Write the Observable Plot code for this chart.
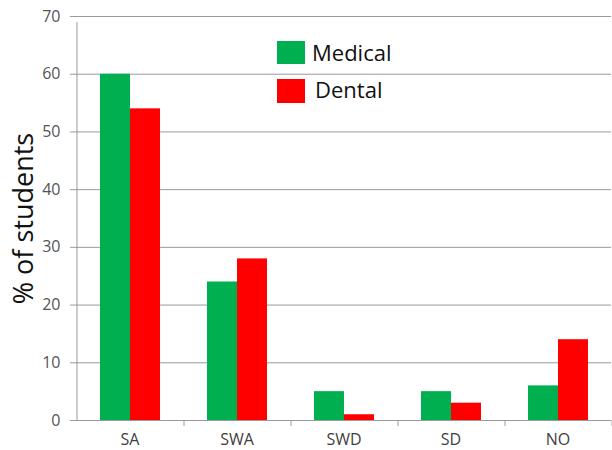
<!DOCTYPE html>
<html><head><meta charset="utf-8">
<script src="https://cdn.jsdelivr.net/npm/d3@7"></script>
<script src="https://cdn.jsdelivr.net/npm/@observablehq/plot@0.6"></script>
<style>
body{margin:0;background:#fff;}
#wrap{position:relative;width:612px;height:450px;font-family:"Open Sans",sans-serif;}
.sw{position:absolute;width:28px;}
.lt{position:absolute;font-size:22px;color:#111;white-space:nowrap;line-height:normal;}
</style></head><body><div id="wrap"></div>
<script>
const categories = ["SA","SWA","SWD","SD","NO"];
const series = ["Medical","Dental"];
const medical = [60,24,5,5,6];
const dental = [54,28,1,3,14];
const yTicks = [0,10,20,30,40,50,60,70];
const colors = ["#00B050","#FF0000"];
const yTitle = "% of students";

const data = categories.flatMap((c,i)=>[
  {cat:c, group:series[0], value: medical[i]},
  {cat:c, group:series[1], value: dental[i]}
]);

const W=612,H=450,mL=74,mR=0,mT=16,mB=30;
const padOuter=0.76;
const facetW=(W-mL-mR)/categories.length;
const bw=facetW/(2+2*padOuter);
const edgeDx=padOuter*bw+bw/2;
const grid="#9a9a9a";

const chart = Plot.plot({
  width:W,height:H,marginLeft:mL,marginRight:mR,marginTop:mT,marginBottom:mB,
  style:{fontFamily:'"Open Sans",sans-serif',fontSize:"16px",background:"white",overflow:"visible"},
  fx:{domain:categories,padding:0,label:null},
  x:{domain:series,paddingInner:0,paddingOuter:padOuter,axis:null},
  y:{domain:[0,70],label:null},
  color:{domain:series,range:colors},
  marks:[
    Plot.ruleY(yTicks.filter(t=>t>0),{stroke:grid,strokeWidth:1}),
    Plot.barY(data,{fx:"cat",x:"group",y:"value",fill:"group"}),
    Plot.ruleY([0],{stroke:grid}),
    Plot.ruleX(categories,{fx:d=>d,x:()=>series[1],dx:edgeDx,y1:0,y2:0,insetBottom:-6,stroke:grid}),
    Plot.ruleX([0],{fx:()=>categories[0],x:()=>series[0],dx:-edgeDx,y1:0,y2:70,insetBottom:-6,stroke:grid}),
    Plot.axisY({ticks:yTicks,tickSize:6,tickPadding:10,label:null,stroke:grid,fill:"#555"}),
    Plot.axisFx({anchor:"bottom",tickSize:0,tickPadding:13,label:null,fill:"#404040"}),
    Plot.text([yTitle],{fx:()=>categories[0],frameAnchor:"left",textAnchor:"middle",dx:-52,rotate:-90,fontSize:27,fill:"#111"})
  ]
});
const wrap=document.getElementById("wrap");
wrap.appendChild(chart);
const leg=[{sTop:41,sH:23,tLeft:312,base:61},{sTop:79,sH:24,tLeft:315,base:98}];
series.forEach((s,i)=>{
  const sw=document.createElement("div");
  sw.className="sw";
  sw.style.cssText=`left:277px;top:${leg[i].sTop}px;height:${leg[i].sH}px;background:${colors[i]}`;
  wrap.appendChild(sw);
  const t=document.createElement("div");
  t.className="lt";
  t.textContent=s;
  t.style.left=leg[i].tLeft+"px";
  t.style.top=(leg[i].base-22*1.069)+"px";
  wrap.appendChild(t);
});
</script></body></html>
